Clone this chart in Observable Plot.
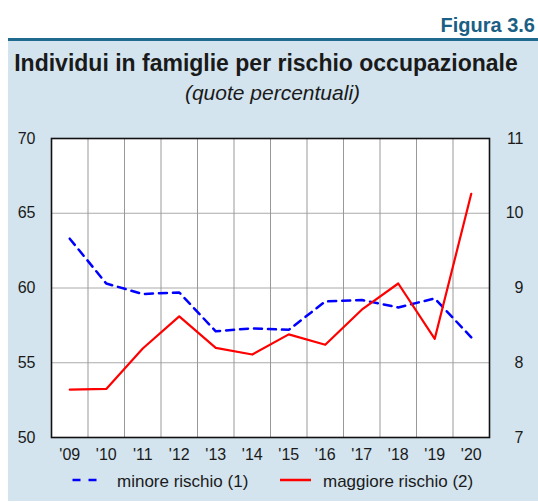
<!DOCTYPE html>
<html>
<head>
<meta charset="utf-8">
<script src="https://cdn.jsdelivr.net/npm/d3@7"></script>
<script src="https://cdn.jsdelivr.net/npm/@observablehq/plot@0.6"></script>
<style>
  html, body { margin: 0; padding: 0; background: #ffffff; }
  body { width: 538px; height: 502px; position: relative; overflow: hidden;
         font-family: "Liberation Sans", Arial, Helvetica, sans-serif; color: #1a1a1a; }
  .abs { position: absolute; white-space: nowrap; }
  #panel { left: 8px; top: 41px; width: 530px; height: 460px; background: #d3e4ee; }
  #topline { left: 8px; top: 38px; width: 530px; height: 3px; background: #1f6a8e; }
  #figura { right: 3px; top: 14.6px; font-size: 20px; line-height: 20px; font-weight: bold; color: #1b5f85; }
  #title { left: 0; width: 532px; text-align: center; top: 51.5px; font-size: 23px; line-height: 23px; font-weight: bold; }
  #subtitle { left: 0; width: 545px; text-align: center; top: 81.8px; font-size: 21px; line-height: 21px; font-style: italic; }
  #chart { left: 0; top: 120px; }
  .leg { top: 473px; font-size: 17px; line-height: 17px; }
  .sw { position: absolute; top: 477px; }
</style>
</head>
<body>
<div class="abs" id="panel"></div>
<div class="abs" id="topline"></div>
<div class="abs" id="figura">Figura 3.6</div>
<div class="abs" id="title">Individui in famiglie per rischio occupazionale</div>
<div class="abs" id="subtitle">(quote percentuali)</div>
<div class="abs" id="chart"></div>
<svg class="sw" style="left:72px" width="30" height="6"><line x1="0.5" y1="3" x2="29" y2="3" stroke="#0000ff" stroke-width="2.5" stroke-dasharray="8,8"/></svg>
<div class="abs leg" style="left:117px">minore rischio (1)</div>
<svg class="sw" style="left:280px" width="32" height="6"><line x1="0" y1="3" x2="31" y2="3" stroke="#ff0000" stroke-width="2.5"/></svg>
<div class="abs leg" style="left:323px">maggiore rischio (2)</div>
<script>
const years = [2009, 2010, 2011, 2012, 2013, 2014, 2015, 2016, 2017, 2018, 2019, 2020];
const minoreRischio = [63.3, 60.3, 59.6, 59.7, 57.1, 57.3, 57.2, 59.1, 59.2, 58.7, 59.3, 56.7];
const maggioreRischio = [7.64, 7.65, 8.19, 8.62, 8.20, 8.11, 8.38, 8.24, 8.71, 9.06, 8.32, 10.26];
const leftTicks = [50, 55, 60, 65, 70];
const rightTicks = [7, 8, 9, 10, 11];

// right axis (7..11) mapped onto left scale (50..70)
const toLeft = v => 50 + (v - 7) * 5;
const fromLeft = v => (v - 50) / 5 + 7;

const data = years.map((y, i) => ({ year: y, minore: minoreRischio[i], maggiore: maggioreRischio[i] }));
const boundaries = years.slice(1).map(y => y - 0.5);

const chart = Plot.plot({
  width: 538,
  height: 360,
  marginTop: 18,
  marginBottom: 43,
  marginLeft: 51,
  marginRight: 49,
  style: { background: "transparent", fontFamily: "Liberation Sans, Arial, sans-serif", color: "#1a1a1a", overflow: "visible" },
  x: { domain: [2008.5, 2020.5] },
  y: { domain: [50, 70] },
  marks: [
    Plot.frame({ fill: "white", stroke: null }),
    Plot.ruleY([55, 60, 65], { stroke: "#aaaaaa", strokeWidth: 1 }),
    Plot.ruleX(boundaries, { stroke: "#999999", strokeWidth: 1 }),
    Plot.axisX({ ticks: years, tickFormat: d => "'" + String(d).slice(2), tickSize: 0, tickPadding: 11, fontSize: 16, label: null }),
    Plot.axisY({ anchor: "left", ticks: leftTicks, tickSize: 0, tickPadding: 16, fontSize: 16, label: null }),
    Plot.axisY({ anchor: "right", ticks: rightTicks.map(toLeft), tickFormat: d => String(Math.round(fromLeft(d))), tickSize: 0, tickPadding: 0, textAnchor: "end", dx: 34, fontSize: 16, label: null }),
    Plot.line(data, { x: "year", y: "minore", stroke: "#0000ff", strokeWidth: 2.5, strokeDasharray: "8,6" }),
    Plot.line(data, { x: "year", y: d => toLeft(d.maggiore), stroke: "#ff0000", strokeWidth: 2.2 }),
    Plot.frame({ stroke: "#111111", strokeWidth: 1.6 })
  ]
});
document.getElementById("chart").appendChild(chart);
</script>
</body>
</html>
